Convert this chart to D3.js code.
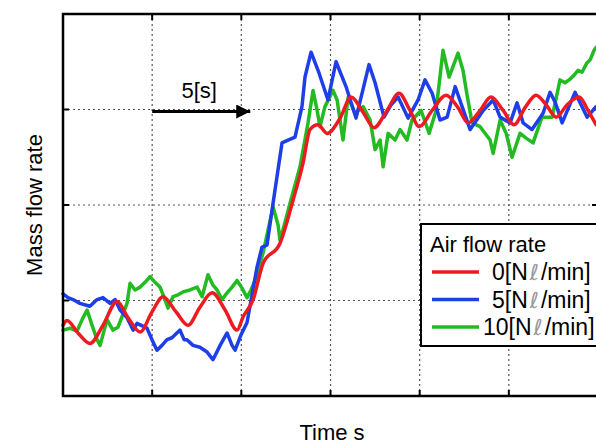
<!DOCTYPE html>
<html>
<head>
<meta charset="utf-8">
<script src="https://cdn.jsdelivr.net/npm/d3@7"></script>
<style>
  html, body { margin: 0; padding: 0; background: #fff; }
  svg { display: block; font-family: "Liberation Sans", Arial, sans-serif; }
</style>
</head>
<body>
<svg id="chart" width="596" height="445"></svg>
<script>
// time [s] and mass flow rate (arbitrary units) for each air flow rate
const tRed = [0,0.22,0.84,1.51,2.24,3.03,3.65,4.32,4.99,5.61,6.34,7.01,7.68,8.36,9.09,9.76,10.1,10.66,11.22,12.17,12.9,13.46,13.85,14.3,14.81,15.54,16.15,16.83,17.44,18.17,18.84,19.46,19.97,20.7,21.48,22.15,22.71,23.39,24.0,24.68,25.29,25.91,26.53,27.09,27.65,28.27,28.94,29.44,29.89];
const vRed = [0.74,0.79,0.66,0.55,0.74,0.99,0.82,0.67,0.88,1.04,0.88,0.74,0.93,1.08,0.9,0.69,0.83,1.01,1.39,1.6,2.05,2.44,2.79,2.84,2.75,2.91,3.13,2.97,2.81,2.99,3.17,2.99,2.82,2.99,3.15,3.02,2.86,2.99,3.13,2.99,2.84,3.02,3.15,3.05,2.92,3.05,3.13,2.99,2.84];

const tBlue = [0,0.28,0.56,0.95,1.51,1.91,2.24,2.64,2.92,3.2,3.59,3.93,4.15,4.71,4.99,5.27,5.55,5.83,6.11,6.56,6.79,6.95,7.29,7.68,8.08,8.41,8.81,9.2,9.48,9.65,9.98,10.32,10.88,11.16,11.44,11.78,12.28,12.62,13.01,13.4,13.57,13.91,14.36,14.86,15.31,15.87,16.43,17.16,17.5,18.0,18.4,18.79,19.35,19.91,20.3,20.7,21.14,21.54,21.99,22.38,22.83,23.56,24.12,24.51,25.07,25.46,25.8,26.3,26.92,27.31,27.59,27.99,28.71,29.39,29.89];
const vBlue = [1.07,1.03,1.01,0.97,0.94,1.01,1.03,0.97,1.01,0.9,0.82,0.69,0.76,0.71,0.59,0.48,0.53,0.59,0.61,0.69,0.59,0.59,0.53,0.51,0.46,0.38,0.53,0.66,0.53,0.48,0.64,0.77,1.35,1.56,1.58,2.02,2.65,2.68,2.71,3.03,3.34,3.6,3.38,3.1,3.5,3.24,2.91,3.47,3.28,2.92,3.05,3.13,2.91,3.1,3.31,3.17,2.89,2.92,3.24,3.03,2.79,2.99,3.1,2.92,2.86,3.07,2.86,2.79,2.96,3.18,3.08,2.86,3.18,2.92,3.03];

const tGreen = [0,0.39,0.79,1.07,1.35,1.63,1.91,2.08,2.47,2.8,3.08,3.31,3.59,3.76,4.04,4.32,4.6,4.88,5.16,5.44,5.72,5.89,6.17,6.45,6.73,7.12,7.52,7.8,8.13,8.41,8.64,8.92,9.2,9.48,9.76,10.04,10.32,10.54,10.77,11.22,11.5,11.78,12.06,12.17,12.45,12.73,13.29,13.74,14.02,14.25,14.41,14.69,15.14,15.37,15.7,15.99,16.38,16.83,17.22,17.5,17.78,17.95,18.23,18.62,18.9,19.29,19.57,20.08,20.53,20.92,21.31,21.65,22.15,22.43,22.66,22.94,23.39,23.95,24.12,24.51,24.85,25.18,25.63,25.97,26.36,26.86,27.43,27.87,28.15,28.38,28.66,28.88,29.1,29.39,29.56,29.78,29.89];
const vGreen = [0.69,0.71,0.68,0.8,0.9,0.74,0.59,0.53,0.8,0.69,0.72,0.83,0.97,1.18,1.11,1.14,1.19,1.25,1.19,1.14,1.01,0.92,1.04,1.06,1.09,1.11,1.14,1.04,1.27,1.16,1.11,1.01,1.08,1.14,1.21,1.13,1.03,1.11,1.21,1.5,1.74,1.98,1.79,1.63,1.82,2.02,2.4,2.86,3.2,2.99,2.82,3.03,3.2,3.1,2.68,3.13,2.96,3.03,2.89,2.58,2.68,2.4,2.75,2.68,2.79,2.68,2.89,2.99,2.75,2.99,3.62,3.34,3.59,3.41,3.15,2.86,2.82,2.68,2.54,2.89,2.75,2.5,2.75,2.7,2.65,2.92,2.92,3.31,3.28,3.31,3.36,3.41,3.39,3.49,3.52,3.62,3.65];

const gridX = [5, 10, 15, 20, 25];
const gridY = [1, 2, 3];
const legendTitle = 'Air flow rate';
const seriesNames = ['0[N', '5[N', '10[N'];

const svg = d3.select('#chart');
const pL = 63, pT = 14, pR = 598, pB = 396;

const x = d3.scaleLinear().domain([0, 30]).range([pL, pR]);
const y = d3.scaleLinear().domain([0, 4]).range([pB, pT]);

// dotted grid
const grid = svg.append('g');
grid.selectAll('line.gx').data(gridX).enter().append('line')
  .attr('x1', d => x(d)).attr('x2', d => x(d))
  .attr('y1', pT).attr('y2', pB)
  .attr('stroke', '#555').attr('stroke-width', 1.2).attr('stroke-dasharray', '2,3');
grid.selectAll('line.gy').data(gridY).enter().append('line')
  .attr('x1', pL).attr('x2', pR)
  .attr('y1', d => y(d)).attr('y2', d => y(d))
  .attr('stroke', '#555').attr('stroke-width', 1.2).attr('stroke-dasharray', '2,3');

// inward ticks on all four sides
const ticks = svg.append('g').attr('stroke', '#000').attr('stroke-width', 2);
gridX.forEach(d => {
  ticks.append('line').attr('x1', x(d)).attr('x2', x(d)).attr('y1', pT).attr('y2', pT + 6);
  ticks.append('line').attr('x1', x(d)).attr('x2', x(d)).attr('y1', pB).attr('y2', pB - 6);
});
gridY.forEach(d => {
  ticks.append('line').attr('x1', pL).attr('x2', pL + 6).attr('y1', y(d)).attr('y2', y(d));
  ticks.append('line').attr('x1', pR).attr('x2', pR - 6).attr('y1', y(d)).attr('y2', y(d));
});

// series
const series = [
  {t: tGreen, v: vGreen, color: '#22bb22', curve: d3.curveLinear},
  {t: tBlue, v: vBlue, color: '#1e3ee8', curve: d3.curveLinear},
  {t: tRed, v: vRed, color: '#ee1a22', curve: d3.curveMonotoneX}
];
series.forEach(s => {
  const pts = s.t.map((t, i) => [t, s.v[i]]);
  svg.append('path').datum(pts)
    .attr('fill', 'none').attr('stroke', s.color).attr('stroke-width', 3.5)
    .attr('stroke-linejoin', 'round').attr('stroke-linecap', 'round')
    .attr('d', d3.line().x(d => x(d[0])).y(d => y(d[1])).curve(s.curve));
});

// frame
svg.append('rect').attr('x', pL).attr('y', pT)
  .attr('width', pR - pL).attr('height', pB - pT)
  .attr('fill', 'none').attr('stroke', '#000').attr('stroke-width', 2.5);

// 5[s] arrow
svg.append('defs').append('marker').attr('id', 'head')
  .attr('viewBox', '0 0 10 10').attr('refX', 10).attr('refY', 5)
  .attr('markerWidth', 28).attr('markerHeight', 14).attr('markerUnits', 'userSpaceOnUse')
  .attr('orient', 'auto')
  .append('path').attr('d', 'M0,0 L10,5 L0,10 Z').attr('fill', '#000');
svg.append('line').attr('x1', x(5)).attr('x2', x(10.5))
  .attr('y1', y(3) + 2).attr('y2', y(3) + 2)
  .attr('stroke', '#000').attr('stroke-width', 3).attr('marker-end', 'url(#head)');
svg.append('text').attr('x', (x(5) + x(10.5)) / 2 - 2).attr('y', 98)
  .attr('text-anchor', 'middle').attr('font-size', 22).text('5[s]');

// axis titles
svg.append('text').attr('x', 332).attr('y', 440)
  .attr('text-anchor', 'middle').attr('font-size', 22).text('Time s');
svg.append('text').attr('transform', 'translate(42,' + (pT + pB) / 2 + ') rotate(-90)')
  .attr('text-anchor', 'middle').attr('font-size', 22).text('Mass flow rate');

// legend
const lg = svg.append('g').attr('transform', 'translate(421,224)');
lg.append('rect').attr('width', 190).attr('height', 122)
  .attr('fill', '#fff').attr('stroke', '#000').attr('stroke-width', 2);
lg.append('text').attr('x', 9).attr('y', 28).attr('font-size', 22).text(legendTitle);
['#ee1a22', '#1e3ee8', '#22bb22'].forEach((c, i) => {
  const yy = 48 + i * 27.5;
  lg.append('line').attr('x1', 11).attr('x2', 58).attr('y1', yy).attr('y2', yy)
    .attr('stroke', c).attr('stroke-width', 3.5);
  const t = lg.append('text').attr('x', i === 2 ? 62 : 71).attr('y', yy + 8)
    .attr('font-size', 23);
  t.append('tspan').text(seriesNames[i]);
  t.append('tspan').attr('dx', 2).attr('fill', '#999').attr('font-family', 'DejaVu Sans')
    .attr('font-style', 'italic').attr('font-size', 22).text('ℓ');
  t.append('tspan').attr('dx', 2).text('/min]');
});
</script>
</body>
</html>
